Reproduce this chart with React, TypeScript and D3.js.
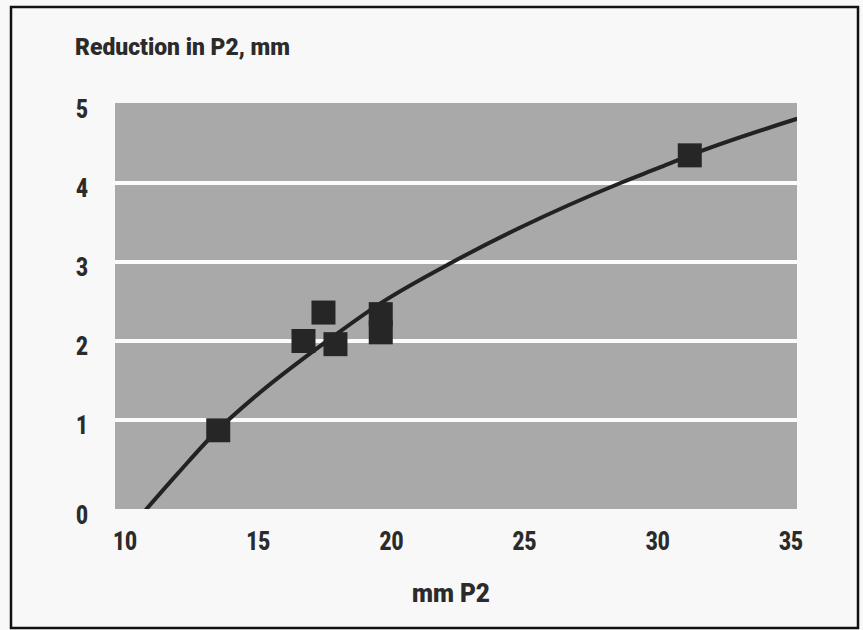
import * as d3 from 'd3';

// Measured squares (mm P2, reduction in P2)
const POINT_X = [13.5, 16.7, 17.45, 17.9, 19.6, 19.6, 31.2];
const POINT_Y = [0.87, 2.0, 2.36, 1.96, 2.34, 2.11, 4.35];

// Fitted curve
const CURVE_X = [10.8, 12, 13.5, 15, 17.5, 19.6, 22.3, 24.8, 28.6, 30.1, 31.2, 35.2];
const CURVE_Y = [-0.13, 0.33, 0.88, 1.33, 1.98, 2.48, 3.0, 3.43, 4.0, 4.2, 4.35, 4.81];

const X_TICKS = [10, 15, 20, 25, 30, 35];
const Y_TICKS = [0, 1, 2, 3, 4, 5];
const GRID_Y = [1, 2, 3, 4];

const W = 863;
const H = 630;
const plot = { left: 115, right: 797, top: 103, bottom: 509 };
const font = 'Roboto, "DejaVu Sans", Arial, sans-serif';
const ink = '#2b2b2b';
const digitW = 12;

export default function App() {
  const x = d3.scaleLinear().domain([10, 35]).range([125, 791]);
  const y = d3.scaleLinear().domain([0, 5]).range([499, 104]);

  const line = d3.line<number>()
    .x((_, i) => x(CURVE_X[i]))
    .y(d => y(d))
    .curve(d3.curveMonotoneX);

  const sq = 24;

  return (
    <div style={{ position: 'absolute', left: 0, top: 0 }}>
      <svg width={W} height={H} style={{ display: 'block' }}>
        <defs>
          <clipPath id="plot-clip">
            <rect x={plot.left} y={plot.top} width={plot.right - plot.left} height={plot.bottom - plot.top} />
          </clipPath>
        </defs>
        <rect x={0} y={0} width={W} height={H} fill="#f8f8f8" />
        <rect x={11} y={7} width={847} height={621} fill="none" stroke="#111" strokeWidth={2.5} />

        {/* Title */}
        <text
          x={75} y={55}
          fontFamily={font} fontWeight={900} fontSize={24} fill={ink}
          textLength={215} lengthAdjust="spacingAndGlyphs"
        >
          Reduction in P2, mm
        </text>

        {/* Plot background */}
        <rect
          x={plot.left} y={plot.top}
          width={plot.right - plot.left} height={plot.bottom - plot.top}
          fill="#a9a9a9"
        />

        {/* Grid lines */}
        {GRID_Y.map(t => (
          <line key={t} x1={plot.left} x2={plot.right} y1={y(t)} y2={y(t)} stroke="#fbfbfb" strokeWidth={4} />
        ))}

        {/* Curve */}
        <path
          d={line(CURVE_Y) ?? ''}
          fill="none" stroke="#222" strokeWidth={4} strokeLinecap="round"
          clipPath="url(#plot-clip)"
        />

        {/* Squares */}
        {POINT_X.map((px, i) => (
          <rect
            key={i}
            x={x(px) - sq / 2} y={y(POINT_Y[i]) - sq / 2}
            width={sq} height={sq}
            fill="#262626"
          />
        ))}

        {/* Y tick labels */}
        {Y_TICKS.map(t => (
          <text
            key={t}
            x={82} y={y(t) + (t === 0 ? 25 : 14)}
            textAnchor="middle" fontFamily={font} fontWeight={900} fontSize={26} fill={ink}
            textLength={digitW} lengthAdjust="spacingAndGlyphs"
          >
            {t}
          </text>
        ))}

        {/* X tick labels */}
        {X_TICKS.map(t => (
          <text
            key={t}
            x={x(t)} y={550}
            textAnchor="middle" fontFamily={font} fontWeight={900} fontSize={26} fill={ink}
            textLength={digitW * String(t).length} lengthAdjust="spacingAndGlyphs"
          >
            {t}
          </text>
        ))}

        <text
          x={451} y={602}
          textAnchor="middle" fontFamily={font} fontWeight={900} fontSize={26} fill={ink}
          textLength={78} lengthAdjust="spacingAndGlyphs"
        >
          mm P2
        </text>
      </svg>
    </div>
  );
}
